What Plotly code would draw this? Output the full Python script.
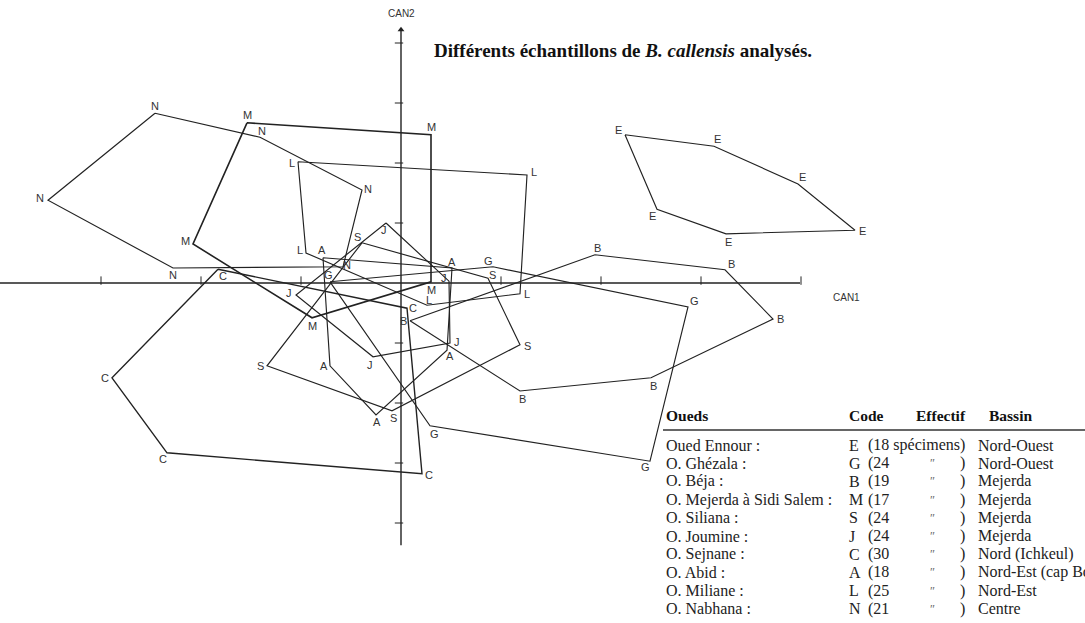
import plotly.graph_objects as go

# ---------------- data (CAN1, CAN2 coordinates of hull vertices) ----------------
codes = ["E", "G", "B", "M", "S", "J", "C", "A", "L", "N"]

can1_E = [2.24, 3.13, 3.97, 4.54, 3.25, 2.56]
can2_E = [2.47, 2.28, 1.65, 0.88, 0.82, 1.23]

can1_G = [-0.71, 0.92, 2.87, 2.49, 0.29]
can2_G = [0.02, 0.27, -0.40, -2.97, -2.38]

can1_B = [0.09, 1.94, 3.24, 3.72, 2.50, 1.19]
can2_B = [-0.63, 0.47, 0.22, -0.60, -1.58, -1.80]

can1_M = [-1.54, 0.30, 0.30, -0.89, -2.08]
can2_M = [2.67, 2.47, 0.02, -0.58, 0.65]

can1_S = [-0.39, 0.87, 1.19, -0.09, -1.34]
can2_S = [0.67, 0.08, -1.03, -2.13, -1.38]

can1_J = [-0.15, 0.48, 0.49, -0.28, -1.05]
can2_J = [1.00, 0.03, -1.00, -1.23, -0.20]

can1_C = [-1.83, 0.06, 0.21, -2.34, -2.89]
can2_C = [0.23, -0.42, -3.18, -2.83, -1.58]

can1_A = [-0.78, 0.51, 0.46, -0.25, -0.71]
can2_A = [0.42, 0.25, -1.12, -2.20, -1.38]

can1_L = [-1.03, 1.26, 1.19, 0.26, -0.95]
can2_L = [2.02, 1.80, -0.18, -0.37, 0.50]

can1_N = [-2.46, -1.41, -0.39, -0.58, -2.28, -3.53]
can2_N = [2.83, 2.43, 1.55, 0.27, 0.25, 1.38]

# axis ticks (CAN units)
can1_ticks = [-3, -2, -1, 1, 2, 3, 4]
can2_ticks = [-4, -3, -2, -1, 1, 2, 3, 4]

# table
oueds = ["Oued Ennour :", "O. Ghézala :", "O. Béja :", "O. Mejerda à Sidi Salem :",
         "O. Siliana :", "O. Joumine :", "O. Sejnane :", "O. Abid :", "O. Miliane :",
         "O. Nabhana :"]
table_codes = ["E", "G", "B", "M", "S", "J", "C", "A", "L", "N"]
effectifs = ["18", "24", "19", "17", "24", "24", "30", "18", "25", "21"]
bassins = ["Nord-Ouest", "Nord-Ouest", "Mejerda", "Mejerda", "Mejerda", "Mejerda",
           "Nord (Ichkeul)", "Nord-Est (cap Bon)", "Nord-Est", "Centre"]

# ---------------- styling (label pixel offsets from each vertex) ----------------
label_offsets = {
    "E": [(-7, -5), (3, -7), (4, -7), (7, 1), (2, 8), (-5, 7)],
    "G": [(-2, -7), (-5, -6), (6, -6), (-5, 6), (4, 8)],
    "B": [(-7, 0), (2, -7), (6, -6), (7, 0), (2, 8), (2, 8)],
    "M": [(0, -8), (0, -8), (0, 8), (0, 8), (-8, -3)],
    "S": [(-5, -6), (4, -3), (7, 1), (1, 7), (-7, 0)],
    "J": [(-2, 7), (-5, -3), (7, -1), (-3, 8), (-7, -2)],
    "C": [(5, 7), (6, 0), (7, 1), (-4, 6), (-7, 0)],
    "A": [(-1, -8), (0, -6), (3, 6), (1, 7), (-6, 0)],
    "L": [(-6, 1), (7, -3), (7, 0), (2, -5), (-6, -3)],
    "N": [(0, -7), (2, -6), (6, -1), (4, -2), (0, 7), (-8, -2)],
}
line_widths = {"M": 1.6, "C": 1.4}

groups = {
    "E": (can1_E, can2_E), "G": (can1_G, can2_G), "B": (can1_B, can2_B),
    "M": (can1_M, can2_M), "S": (can1_S, can2_S), "J": (can1_J, can2_J),
    "C": (can1_C, can2_C), "A": (can1_A, can2_A), "L": (can1_L, can2_L),
    "N": (can1_N, can2_N),
}

W, H = 1085, 623
X0PX, Y0PX, SX, SY = 401, 283, 100.0, 60.0
x_range = [(0 - X0PX) / SX, (W - X0PX) / SX]
y_range = [(Y0PX - H) / SY, (Y0PX - 0) / SY]

fig = go.Figure()
line_col = "#222222"

# axes
fig.add_trace(go.Scatter(x=[x_range[0], 3.99], y=[0, 0], mode="lines",
                         line=dict(color=line_col, width=1.4), hoverinfo="skip"))
fig.add_trace(go.Scatter(x=[0, 0], y=[-4.37, 4.22], mode="lines",
                         line=dict(color=line_col, width=1.4), hoverinfo="skip"))
fig.add_trace(go.Scatter(x=[0], y=[4.22], mode="markers",
                         marker=dict(symbol="triangle-up", size=6, color=line_col),
                         hoverinfo="skip"))
fig.add_trace(go.Scatter(x=can1_ticks, y=[0.04] * len(can1_ticks), mode="markers",
                         marker=dict(symbol="line-ns", size=6,
                                     line=dict(color=line_col, width=1)),
                         hoverinfo="skip"))
fig.add_trace(go.Scatter(x=[-0.02] * len(can2_ticks), y=can2_ticks, mode="markers",
                         marker=dict(symbol="line-ew", size=6,
                                     line=dict(color=line_col, width=1)),
                         hoverinfo="skip"))

annotations = []
for code in codes:
    xs, ys = groups[code]
    fig.add_trace(go.Scatter(x=list(xs) + [xs[0]], y=list(ys) + [ys[0]], mode="lines",
                             line=dict(color=line_col, width=line_widths.get(code, 1.15)),
                             hoverinfo="skip", name=code))
    for (xv, yv), (dx, dy) in zip(zip(xs, ys), label_offsets[code]):
        annotations.append(dict(x=xv, y=yv, xref="x", yref="y", text=code,
                                showarrow=False, xshift=dx, yshift=-dy,
                                font=dict(family="Liberation Sans, Arial", size=11,
                                          color="#333333")))

annotations.append(dict(x=0, y=(Y0PX - 13) / SY, xref="x", yref="y", text="CAN2",
                        showarrow=False, font=dict(family="Liberation Sans", size=10,
                                                   color="#333")))
annotations.append(dict(x=(846 - X0PX) / SX, y=(Y0PX - 297) / SY, xref="x", yref="y",
                        text="CAN1", showarrow=False,
                        font=dict(family="Liberation Sans", size=10, color="#333")))

# title
annotations.append(dict(x=432 / W, y=1 - 51 / H, xref="paper", yref="paper",
                        xanchor="left", yanchor="middle", showarrow=False,
                        text="<b>Différents échantillons de <i>B. callensis</i> analysés.</b>",
                        font=dict(family="Liberation Serif, Times New Roman", size=19,
                                  color="#111")))

# table
serif = "Liberation Serif, Times New Roman"
hdr_y = 415
for txt, xp in [("Oueds", 664), ("Code", 847), ("Effectif", 914), ("Bassin", 987)]:
    annotations.append(dict(x=xp / W, y=1 - hdr_y / H, xref="paper", yref="paper",
                            xanchor="left", yanchor="middle", showarrow=False,
                            text="<b>" + txt + "</b>",
                            font=dict(family=serif, size=15.5, color="#111")))
row_y0, row_dy = 445, 18.2
for i in range(len(oueds)):
    yp = 1 - (row_y0 + i * row_dy) / H
    fnt = dict(family=serif, size=16, color="#222")
    annotations.append(dict(x=664 / W, y=yp, xref="paper", yref="paper", xanchor="left",
                            yanchor="middle", showarrow=False, text=oueds[i], font=fnt))
    annotations.append(dict(x=847 / W, y=yp, xref="paper", yref="paper", xanchor="left",
                            yanchor="middle", showarrow=False, text=table_codes[i], font=fnt))
    if i == 0:
        eff = "(" + effectifs[i] + " spécimens)"
        annotations.append(dict(x=866 / W, y=yp, xref="paper", yref="paper",
                                xanchor="left", yanchor="middle", showarrow=False,
                                text=eff, font=fnt))
    else:
        annotations.append(dict(x=866 / W, y=yp, xref="paper", yref="paper",
                                xanchor="left", yanchor="middle", showarrow=False,
                                text="(" + effectifs[i], font=fnt))
        annotations.append(dict(x=928 / W, y=yp, xref="paper", yref="paper",
                                xanchor="left", yanchor="middle", showarrow=False,
                                text="\u2033", font=dict(family=serif, size=12, color="#666")))
        annotations.append(dict(x=958 / W, y=yp, xref="paper", yref="paper",
                                xanchor="left", yanchor="middle", showarrow=False,
                                text=")", font=fnt))
    annotations.append(dict(x=976 / W, y=yp, xref="paper", yref="paper", xanchor="left",
                            yanchor="middle", showarrow=False, text=bassins[i], font=fnt))

shapes = [dict(type="line", xref="paper", yref="paper", x0=663 / W, x1=1.0,
               y0=1 - 430 / H, y1=1 - 430 / H, line=dict(color="#333", width=1.3))]

fig.update_layout(
    width=W, height=H, margin=dict(l=0, r=0, t=0, b=0),
    paper_bgcolor="white", plot_bgcolor="white", showlegend=False,
    xaxis=dict(range=x_range, visible=False, fixedrange=True),
    yaxis=dict(range=y_range, visible=False, fixedrange=True),
    annotations=annotations, shapes=shapes,
)

fig.write_html("out.html", config={"displayModeBar": False},
               post_script="document.body.style.margin='0px';")
